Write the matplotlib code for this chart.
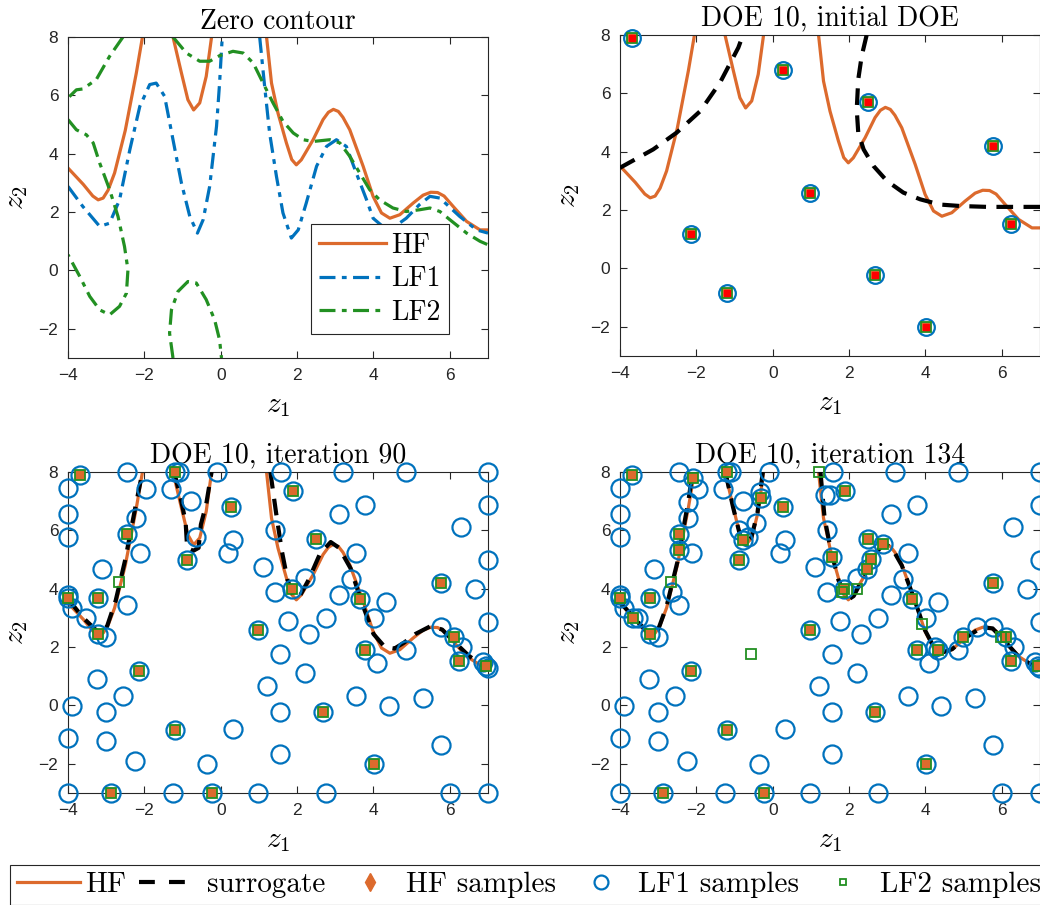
import numpy as np
import matplotlib
matplotlib.use("Agg")
import matplotlib.pyplot as plt
from matplotlib.lines import Line2D

plt.rcParams['mathtext.fontset'] = 'cm'

# colours (MATLAB-ish)
c_hf = '#DC6A2D'
c_lf1 = '#0072BD'
c_lf2 = '#229022'
c_ax = '#262626'

# ---------- zero contours ----------
hf_seg1_x = [-4.0, -3.6, -3.35, -3.21, -3.08, -2.95, -2.78, -2.5, -2.21, -2.05]
hf_seg1_y = [3.51, 2.95, 2.55, 2.42, 2.48, 2.75, 3.34, 4.8, 6.77, 8.0]
hf_seg2_x = [-1.25, -1.03, -0.86, -0.71, -0.55, -0.38, -0.24]
hf_seg2_y = [8.0, 6.77, 5.85, 5.5, 5.74, 6.65, 8.0]
hf_seg3_x = [1.2, 1.33, 1.5, 1.72, 1.86, 1.98, 2.11, 2.25, 2.42, 2.68, 2.82, 2.95, 3.08,
             3.2, 3.38, 3.73, 3.99, 4.21, 4.43, 4.69, 5.04, 5.3, 5.5, 5.68, 5.85,
             6.09, 6.44, 6.79, 7.0]
hf_seg3_y = [8.0, 6.42, 5.39, 4.37, 3.8, 3.62, 3.79, 4.1, 4.48, 5.17, 5.42, 5.52, 5.45,
             5.25, 4.82, 3.57, 2.54, 1.97, 1.79, 1.91, 2.31, 2.58, 2.68, 2.67, 2.55,
             2.19, 1.68, 1.39, 1.39]

lf1_seg1_x = [-4.0, -3.61, -3.17, -2.91, -2.65, -2.38, -2.12, -1.86, -1.69, -1.47,
              -1.25, -1.03, -0.81, -0.61, -0.46, -0.29, -0.11, -0.03, 0.04]
lf1_seg1_y = [2.88, 2.19, 1.51, 1.62, 2.42, 4.14, 5.62, 6.37, 6.42, 5.97,
              4.48, 3.0, 1.85, 1.28, 1.74, 2.88, 4.94, 6.42, 8.0]
lf1_seg2_x = [1.02, 1.15, 1.28, 1.46, 1.63, 1.85, 2.03, 2.24, 2.51, 2.77, 3.03, 3.29,
              3.55, 3.82, 3.99, 4.25, 4.5, 4.86, 5.2, 5.48, 5.74, 6.26, 6.7, 7.0]
lf1_seg2_y = [8.0, 6.31, 4.71, 3.22, 1.97, 1.11, 1.39, 2.31, 3.57, 4.25, 4.48, 4.25,
              3.34, 2.42, 1.79, 1.5, 1.45, 1.79, 2.25, 2.54, 2.48, 1.85, 1.39, 1.28]

lf2_seg1_x = [-2.56, -2.91, -3.26, -3.61, -3.78, -4.0]
lf2_seg1_y = [8.0, 7.34, 6.54, 6.22, 6.19, 5.91]
lf2_seg2_x = [-4.0, -3.78, -3.52, -3.34, -3.17, -2.91, -2.69, -2.52, -2.43, -2.47,
              -2.65, -2.91, -3.17, -3.43, -3.69, -4.0]
lf2_seg2_y = [5.17, 4.82, 4.65, 4.37, 3.68, 2.77, 1.85, 0.82, 0.02, -0.78,
              -1.23, -1.52, -1.35, -0.89, -0.21, 0.54]
lf2_seg3_x = [-1.25, -1.34, -1.29, -1.12, -0.86, -0.64, -0.38, -0.16, -0.03, 0.02]
lf2_seg3_y = [-3.0, -2.15, -1.35, -0.72, -0.38, -0.43, -1.0, -1.69, -2.38, -3.0]
lf2_seg4_x = [-1.25, -0.9, -0.55, -0.29, -0.03, 0.32, 0.59, 0.85, 1.11, 1.37, 1.63,
              1.9, 2.16, 2.42, 2.86, 3.12, 3.38, 3.64, 3.9, 4.16, 4.51, 4.86, 5.21,
              5.48, 5.74, 6.0, 6.44, 6.79, 7.0]
lf2_seg4_y = [8.0, 7.45, 7.17, 7.17, 7.36, 7.51, 7.45, 7.11, 6.42, 5.74, 5.11,
              4.71, 4.48, 4.42, 4.48, 4.37, 3.91, 3.34, 2.77, 2.42, 2.14, 2.02, 2.08,
              2.14, 2.02, 1.74, 1.28, 1.0, 0.88]

# surrogate zero contours
sur0_seg1_x = [-4.0, -3.13, -2.52, -1.9, -1.38, -0.9, -0.78]
sur0_seg1_y = [3.45, 4.08, 4.65, 5.39, 6.37, 7.57, 8.0]
sur0_seg2_x = [2.46, 2.33, 2.24, 2.2, 2.24, 2.38, 2.64, 2.99, 3.42, 3.86, 4.38, 4.91,
               5.61, 6.3, 7.0]
sur0_seg2_y = [8.0, 7.28, 6.48, 5.45, 4.65, 4.08, 3.51, 3.0, 2.6, 2.37, 2.19, 2.14,
               2.11, 2.11, 2.11]

sur90_seg1_x = [-4.0, -3.6, -3.2, -2.98, -2.75, -2.5, -2.22, -2.05]
sur90_seg1_y = [3.65, 3.0, 2.5, 2.7, 3.6, 5.0, 6.9, 8.0]
sur90_seg2_x = [-1.22, -1.05, -0.92, -0.88, -0.72, -0.58, -0.52, -0.38, -0.24]
sur90_seg2_y = [8.0, 7.1, 6.3, 5.4, 5.3, 5.4, 6.2, 6.9, 8.0]
sur90_seg3_x = [1.3, 1.45, 1.6, 1.75, 1.9, 2.05, 2.3, 2.6, 2.88, 3.1, 3.4, 3.7, 4.0,
                4.3, 4.55, 4.8, 5.1, 5.5, 5.8, 6.1, 6.5, 6.8, 7.0]
sur90_seg3_y = [8.0, 6.6, 5.3, 4.3, 3.75, 3.7, 4.3, 5.2, 5.6, 5.4, 4.7, 3.5, 2.45,
                2.0, 1.95, 2.15, 2.45, 2.72, 2.6, 2.2, 1.7, 1.42, 1.38]

sur134_seg1_x = [-4.0, -3.6, -3.21, -3.0, -2.78, -2.5, -2.21, -2.1]
sur134_seg1_y = [3.55, 2.95, 2.42, 2.6, 3.4, 4.9, 7.0, 8.0]
sur134_seg2_x = [-1.24, -1.04, -0.86, -0.72, -0.56, -0.4, -0.26]
sur134_seg2_y = [8.0, 6.8, 5.85, 5.55, 5.75, 6.6, 8.0]
sur134_seg3_x = [1.25, 1.36, 1.52, 1.72, 1.95, 2.12, 2.42, 2.68, 2.92, 3.12, 3.38,
                 3.72, 3.98, 4.22, 4.45, 4.7, 5.05, 5.48, 5.76, 6.1, 6.45, 6.8, 7.0]
sur134_seg3_y = [8.0, 6.4, 5.35, 4.3, 3.6, 3.75, 4.5, 5.2, 5.55, 5.4, 4.8, 3.6, 2.6,
                 2.0, 1.82, 1.93, 2.32, 2.68, 2.64, 2.17, 1.66, 1.38, 1.37]

# ---------- samples ----------
init_x = [-3.68, 0.28, 2.49, 5.77, 0.98, -2.13, 6.25, -1.19, 2.69, 4.02]
init_y = [7.89, 6.81, 5.69, 4.18, 2.6, 1.17, 1.51, -0.84, -0.24, -2.0]

hf90_x = [-1.21, 1.88, -2.45, -0.88, -4.0, -3.22, -3.22, 1.87, 3.66, 3.77, 6.1, 6.96,
          -2.88, -0.24]
hf90_y = [8.0, 7.34, 5.88, 4.99, 3.68, 3.67, 2.45, 3.99, 3.66, 1.9, 2.34, 1.36,
          -3.0, -3.0]
hf134_x = [-3.65, -2.1, -2.45, -0.32, -0.79, 1.56, 2.57, 2.46, 2.9, 4.34, 4.98]
hf134_y = [2.99, 7.78, 5.33, 7.12, 5.67, 5.1, 5.02, 4.68, 5.53, 1.9, 2.34]

lf1_90_x = [-2.45, -1.08, -0.11, 1.57, 3.21, 4.86, 7.0,
            -4.0, -4.0, -4.0, -4.0, -3.89, -3.54, -3.0, -3.11, -2.46, -2.23, -1.97,
            -2.12, -1.29, -0.78, -0.65, 0.32, 0.2, 1.11, 1.42, 1.42, 1.76, 2.2, 2.31,
            2.77, 3.1, 3.77, 3.55, 3.42, 3.1, 4.01, 4.32, 4.1, 4.86, 5.76, 6.32, 6.3,
            6.65, 7.0, 7.0, 7.0, 6.86, 7.0,
            -3.24, -2.56, -3.89, -3.0, -4.0, -3.0, -2.24, -0.35, 0.32, 1.2, 2.2, 1.55,
            1.55, 1.55, 3.54, 4.42, 5.31, 5.76,
            -4.0, -1.25, 0.98, 2.77, 6.0, 7.0]
lf1_90_y = [8.0, 8.0, 8.0, 8.0, 8.0, 8.0, 8.0,
            7.45, 6.56, 5.77, 3.78, 3.33, 2.99, 2.33, 4.67, 3.43, 6.44, 7.43,
            5.22, 7.43, 6.99, 5.77, 5.68, 5.22, 4.76, 6.02, 3.9, 2.89, 4.36, 2.44,
            2.99, 6.56, 6.88, 5.22, 4.33, 3.79, 2.99, 3.56, 1.46, 1.9, 2.68, 1.99, 6.11,
            3.99, 6.88, 4.99, 2.87, 1.5, 1.3,
            0.89, 0.33, -0.01, -0.22, -1.11, -1.23, -1.9, -1.99, -0.79, 0.66, 1.12, 1.78,
            -0.22, -1.67, 0.33, -0.01, 0.24, -1.34,
            -3.0, -3.0, -3.0, -3.0, -3.0, -3.0]
lf1_134_x = [-2.65, -2.21, -0.88, -0.44, -0.33, 1.37, 1.5, 4.25, 5.34]
lf1_134_y = [3.9, 6.98, 6.01, 6.24, 7.33, 7.21, 7.21, 2.0, 2.7]

lf2_90_x = [-2.66]
lf2_90_y = [4.24]
lf2_134_x = [1.22, 1.81, 2.22, 3.9, 5.99, -0.56]
lf2_134_y = [8.0, 3.9, 3.99, 2.78, 2.34, 1.78]

titles = ['Zero contour', 'DOE 10, initial DOE',
          'DOE 10, iteration 90', 'DOE 10, iteration 134']
legend_labels = ['HF', 'surrogate', 'HF samples', 'LF1 samples', 'LF2 samples']

fig = plt.figure(figsize=(10.4, 9.05), dpi=100)
W, H = 1040.0, 905.0


def make_ax(x0, y0):
    ax = fig.add_axes([x0 / W, 1 - (y0 + 321) / H, 420 / W, 321 / H])
    ax.set_xlim(-4, 7)
    ax.set_ylim(-3, 8)
    ax.set_xticks([-4, -2, 0, 2, 4, 6])
    ax.set_yticks([-2, 0, 2, 4, 6, 8])
    ax.tick_params(direction='in', top=True, right=True, length=5, width=0.8,
                   colors=c_ax, labelsize=12.5, pad=7)
    for lab in ax.get_xticklabels() + ax.get_yticklabels():
        lab.set_family('Liberation Sans')
    for s in ax.spines.values():
        s.set_color(c_ax)
        s.set_linewidth(0.8)
    ax.set_xlabel(r'$z_1$', fontsize=21, labelpad=6)
    ax.set_ylabel(r'$z_2$', fontsize=21, labelpad=6)
    return ax


ax1 = make_ax(68, 37)
ax2 = make_ax(620, 35)
ax3 = make_ax(68, 472)
ax4 = make_ax(620, 472)

for ax, t in zip([ax1, ax2, ax3, ax4], titles):
    ax.set_title(t, family='cmr10', fontsize=20, pad=6)

lw_hf = 2.3
lw_sur = 3.0
dash_sur = (0, (4, 2.5))
dash_lf = (0, (5, 2, 1.5, 2))


def draw_hf(ax, lab=None):
    ax.plot(hf_seg1_x, hf_seg1_y, color=c_hf, lw=lw_hf, label=lab, zorder=2)
    ax.plot(hf_seg2_x, hf_seg2_y, color=c_hf, lw=lw_hf, zorder=2)
    ax.plot(hf_seg3_x, hf_seg3_y, color=c_hf, lw=lw_hf, zorder=2)


# panel 1: zero contours
draw_hf(ax1, 'HF')
ax1.plot(lf1_seg1_x, lf1_seg1_y, color=c_lf1, lw=2.3, ls=dash_lf, label='LF1')
ax1.plot(lf1_seg2_x, lf1_seg2_y, color=c_lf1, lw=2.3, ls=dash_lf)
for sx, sy in [(lf2_seg1_x, lf2_seg1_y), (lf2_seg2_x, lf2_seg2_y),
               (lf2_seg3_x, lf2_seg3_y), (lf2_seg4_x, lf2_seg4_y)]:
    ax1.plot(sx, sy, color=c_lf2, lw=2.3, ls=dash_lf)
ax1.lines[-1].set_label('LF2')
leg1 = ax1.legend(loc='lower right', bbox_to_anchor=(0.907, 0.075), borderaxespad=0,
                  prop={'family': 'cmr10', 'size': 20}, fancybox=False,
                  edgecolor=c_ax, framealpha=1, handlelength=2.4, handletextpad=0.2,
                  labelspacing=0.25, borderpad=0.3)
leg1.get_frame().set_linewidth(0.8)


def draw_samples(ax, lf1x, lf1y, lf2x, lf2y, hfx, hfy, ms_c=13, ms_s=7):
    ax.plot(lf1x, lf1y, 'o', ms=ms_c, mfc='none', mec=c_lf1, mew=1.6,
            clip_on=False, zorder=4)
    ax.plot(hfx, hfy, 's', ms=ms_s, mfc=c_hf, mec=c_lf2, mew=1.3,
            clip_on=False, zorder=5)
    ax.plot(lf2x, lf2y, 's', ms=ms_s, mfc='none', mec=c_lf2, mew=1.3,
            clip_on=False, zorder=5)


# panel 2: initial DOE
draw_hf(ax2)
ax2.plot(sur0_seg1_x, sur0_seg1_y, color='black', lw=lw_sur, ls=dash_sur, zorder=3)
ax2.plot(sur0_seg2_x, sur0_seg2_y, color='black', lw=lw_sur, ls=dash_sur, zorder=3)
draw_samples(ax2, init_x, init_y, [], [], init_x, init_y, ms_c=12, ms_s=7)
ax2.plot(init_x, init_y, 's', ms=4, mfc='red', mec='red', clip_on=False, zorder=6)

# panel 3: iteration 90
hf_all90_x = init_x + hf90_x
hf_all90_y = init_y + hf90_y
draw_hf(ax3)
for sx, sy in [(sur90_seg1_x, sur90_seg1_y), (sur90_seg2_x, sur90_seg2_y),
               (sur90_seg3_x, sur90_seg3_y)]:
    ax3.plot(sx, sy, color='black', lw=lw_sur, ls=dash_sur, zorder=3)
draw_samples(ax3, lf1_90_x + hf_all90_x, lf1_90_y + hf_all90_y,
             lf2_90_x, lf2_90_y, hf_all90_x, hf_all90_y)

# panel 4: iteration 134
hf_all134_x = hf_all90_x + hf134_x
hf_all134_y = hf_all90_y + hf134_y
draw_hf(ax4)
for sx, sy in [(sur134_seg1_x, sur134_seg1_y), (sur134_seg2_x, sur134_seg2_y),
               (sur134_seg3_x, sur134_seg3_y)]:
    ax4.plot(sx, sy, color='black', lw=lw_sur, ls=dash_sur, zorder=3)
draw_samples(ax4, lf1_90_x + lf1_134_x + hf_all134_x, lf1_90_y + lf1_134_y + hf_all134_y,
             lf2_90_x + lf2_134_x, lf2_90_y + lf2_134_y, hf_all134_x, hf_all134_y)

# shared legend at the bottom
handles = [
    Line2D([], [], color=c_hf, lw=lw_hf),
    Line2D([], [], color='black', lw=lw_sur, ls=(0, (3.8, 3.4, 3.8, 20))),
    Line2D([], [], ls='none', marker='d', ms=9, mfc=c_hf, mec=c_hf),
    Line2D([], [], ls='none', marker='o', ms=10, mfc='none', mec=c_lf1, mew=1.6),
    Line2D([], [], ls='none', marker='s', ms=5, mfc='none', mec=c_lf2, mew=1.3),
]
leg = fig.legend(handles, legend_labels, loc='upper left',
                 bbox_to_anchor=(10 / W, 1 - 865 / H),
                 ncol=5, prop={'family': 'cmr10', 'size': 21}, fancybox=False,
                 edgecolor=c_ax, framealpha=1, borderaxespad=0, handlelength=2.16,
                 handletextpad=0.17, columnspacing=0.45, borderpad=0.24)
leg.get_frame().set_linewidth(0.8)

fig.savefig('out.png', dpi=100)
